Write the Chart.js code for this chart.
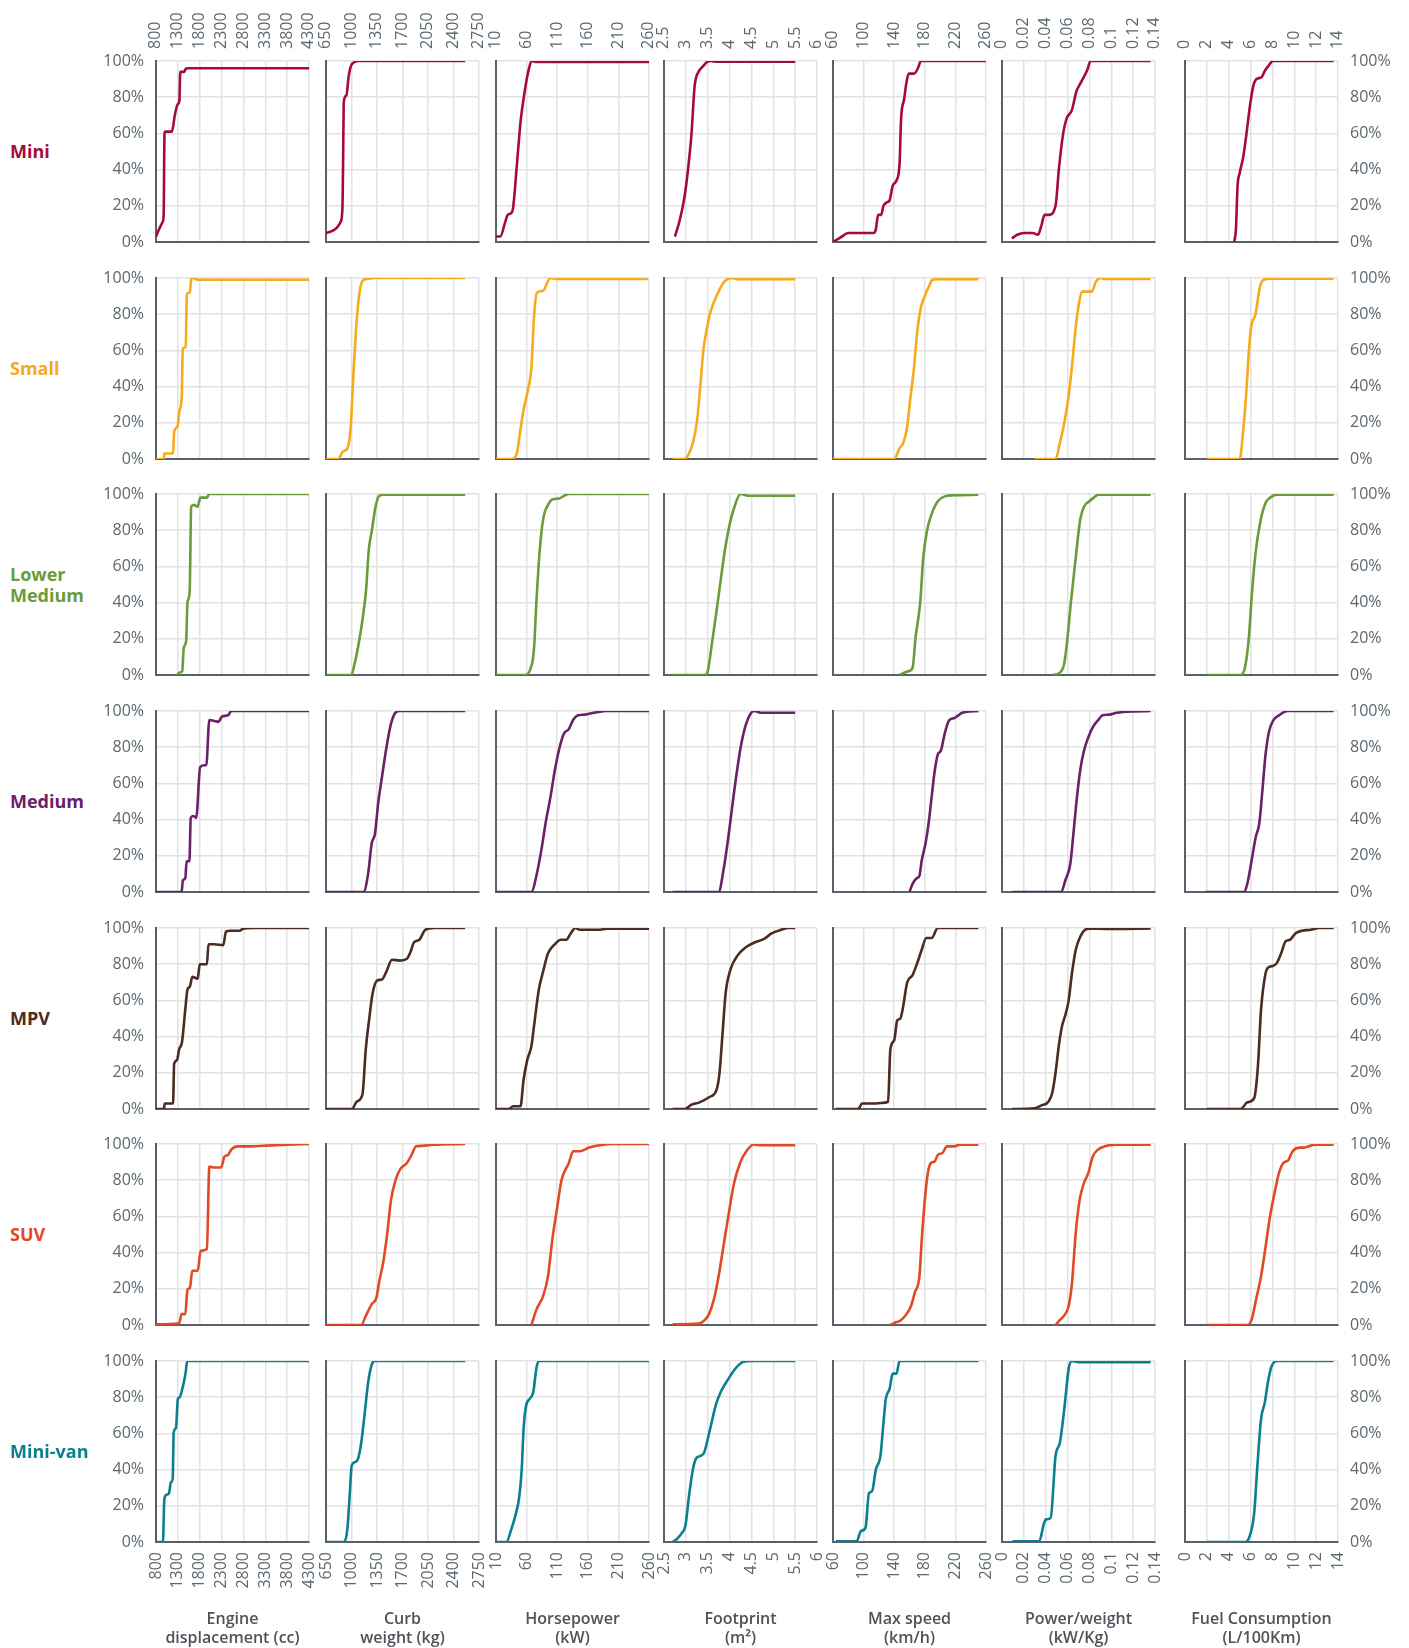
<!DOCTYPE html>
<html>
<head>
<meta charset="utf-8">
<script src="https://cdn.jsdelivr.net/npm/chart.js@4.4.0/dist/chart.umd.min.js"></script>
<style>
  body { margin: 0; background: #fff; width: 1409px; height: 1648px; position: relative; overflow: hidden; font-family: 'Open Sans', sans-serif; }
  canvas { position: absolute; }
  .rowlabel { position: absolute; left: 10px; font-weight: 700; font-size: 18px; line-height: 21.5px; transform: translateY(-50%); }
  .coltitle { position: absolute; top: 1609px; width: 190px; text-align: center; font-weight: 600; font-size: 16px; line-height: 19px; color: #4d5359; }
</style>
</head>
<body>
<script>
// vehicle classes (rows) and the seven attributes (columns)
const classes = ['Mini', 'Small', 'Lower\nMedium', 'Medium', 'MPV', 'SUV', 'Mini-van'];
const metrics = [
  ['Engine', 'displacement (cc)'],
  ['Curb', 'weight (kg)'],
  ['Horsepower', '(kW)'],
  ['Footprint', '(m\u00b2)'],
  ['Max speed', '(km/h)'],
  ['Power/weight', '(kW/Kg)'],
  ['Fuel Consumption', '(L/100Km)']
];

// x axis range + tick step of each column
const axisMin = [800, 650, 10, 2.5, 60, 0, 0];
const axisMax = [4300, 2750, 260, 6, 260, 0.14, 14];
const axisStep = [500, 350, 50, 0.5, 40, 0.02, 2];
const pctStep = 20;

// cumulative share (%) per class, order: engine, curb, hp, footprint, max speed, power/weight, fuel
const mini = [
  [[800,3],[870,7],[950,11],[975,15],[995,60],[1010,61],[1165,61],[1230,70],[1295,76],[1335,78],[1355,94],[1450,94],[1475,95.5],[1525,96],[4300,96]],
  [[650,5],[730,6],[800,8],[850,11],[875,18],[885,45],[893,77],[930,81],[960,91],[990,97],[1045,99.5],[1100,100],[2560,100]],
  [[10,3],[17,3],[25,11],[29,15],[35,16],[38,19],[44,42],[50,66],[55,79],[62,93],[69,100],[76,99.5],[260,99.5]],
  [[2.75,3],[2.86,12],[2.97,25],[3.04,38],[3.13,60],[3.2,86],[3.29,94],[3.39,97],[3.5,99.7],[3.57,100],[3.7,99.6],[5.5,99.6]],
  [[60,0],[70,2.5],[80,5],[113,5],[116,7],[119,15],[123,15],[126,20],[131,22],[134,23],[138,31],[143,34],[147,43],[149,68],[153,79],[156,88],[159,93],[166,93],[171,96],[175,100],[260,100]],
  [[0.009,2],[0.014,4],[0.02,5],[0.028,5],[0.033,4],[0.036,9],[0.039,15],[0.043,15],[0.049,20],[0.052,40],[0.056,60],[0.059,68],[0.064,73],[0.068,83],[0.073,89],[0.078,95],[0.081,100],[0.136,100]],
  [[4.5,0],[4.66,7],[4.81,31],[5.0,38],[5.33,47],[5.63,60],[5.94,75],[6.24,86],[6.54,90],[7.0,91],[7.3,94.5],[7.6,97],[8.05,100],[13.6,100]]
];
const small = [
  [[800,0],[980,0],[990,3],[1190,3],[1215,15],[1290,18],[1340,27],[1390,35],[1412,61],[1480,62],[1505,91],[1575,92],[1605,99.5],[1640,100],[1760,99],[4300,99]],
  [[650,0],[820,0],[880,4],[945,6],[990,18],[1020,42],[1058,69],[1100,89],[1145,98],[1210,99.5],[1335,100],[2560,100]],
  [[10,0],[36,0],[44,3],[49,14],[55,27],[62,38],[68,51],[72,78],[77,92],[87,93],[96,99],[100,100],[108,99.5],[258,99.5]],
  [[2.7,0],[2.95,0],[3.05,2],[3.15,8],[3.25,20],[3.33,40],[3.4,60],[3.48,72],[3.56,81],[3.72,91],[3.88,98],[4.05,100],[4.2,99.3],[5.5,99.3]],
  [[60,0],[140,0],[147,6],[152,9],[157,18],[161,33],[166,51],[170,70],[175,84],[179,89],[185,95],[190,99],[195,99.3],[250,99.3]],
  [[0.03,0],[0.049,0],[0.053,9],[0.057,20],[0.061,35],[0.064,51],[0.0675,73],[0.071,88],[0.0735,92.5],[0.082,92.5],[0.086,98],[0.09,100],[0.094,99.5],[0.136,99.5]],
  [[2,0],[5.0,0],[5.3,14],[5.6,36],[5.85,60],[6.05,73],[6.45,80],[6.85,95],[7.2,99],[7.8,99.6],[13.6,99.6]]
];
const lowerMedium = [
  [[1280,0],[1360,1.5],[1400,2],[1435,15],[1490,19],[1520,40],[1570,46],[1605,93],[1670,94],[1750,93],[1815,98],[1960,98],[2020,100],[4300,100]],
  [[650,0],[1000,0],[1030,4],[1093,16],[1156,32],[1200,47],[1237,69],[1280,80],[1330,93],[1375,98.7],[1440,99.6],[2560,99.6]],
  [[10,0],[57,0],[66,3],[72,14],[76,40],[81,67],[87,86],[95,94],[102,97],[113,97.5],[121,99],[129,100],[260,100]],
  [[2.7,0],[3.45,0],[3.5,2],[3.6,18],[3.7,35],[3.8,53],[3.9,70],[4.0,83],[4.1,92],[4.25,100],[4.45,99],[5.5,99]],
  [[147,0],[158,2],[164,4],[168,21],[174,40],[178,65],[183,80],[189,89],[197,96],[206,98.7],[218,99.3],[250,99.6]],
  [[0.047,0],[0.053,1.3],[0.057,6.5],[0.06,21],[0.063,40],[0.0675,65],[0.0716,86],[0.075,93],[0.08,96],[0.084,98],[0.088,99.6],[0.136,99.6]],
  [[2,0],[5.1,0],[5.5,4.6],[5.85,21],[6.1,43],[6.45,67],[6.87,84],[7.37,95],[7.8,98],[8.4,99.6],[13.6,99.6]]
];
const medium = [
  [[800,0],[1385,0],[1415,6.5],[1470,7.5],[1500,17],[1565,17],[1595,41],[1650,42],[1720,41],[1810,69],[1915,70],[1950,70],[2020,95],[2130,94.5],[2230,94],[2310,97],[2450,97.6],[2520,100],[4300,100]],
  [[650,0],[1165,0],[1228,10],[1278,27],[1322,32],[1366,49],[1416,63],[1480,80],[1542,93],[1592,98.5],[1655,100],[2560,100]],
  [[10,0],[68,0],[76,9],[84,23],[91,38],[99,52.5],[106,67],[114,80],[121,87.5],[129,90],[136,95],[144,97.6],[155,98],[170,99],[192,100],[260,100]],
  [[2.7,0],[3.75,0],[3.86,12],[3.97,30],[4.07,49],[4.17,67],[4.27,82],[4.38,93],[4.48,98.5],[4.56,100],[4.74,99],[5.5,99]],
  [[160,0],[164,4.5],[169,7.5],[173,9],[176,17.5],[181,27],[185,38],[188,49],[193,67],[197,76],[201,78],[206,87.5],[212,95],[218,96],[222,97],[229,99],[250,100]],
  [[0.0095,0],[0.054,0],[0.058,6.5],[0.0625,15.5],[0.065,30],[0.068,49],[0.0715,67],[0.075,78],[0.079,85.5],[0.083,91],[0.088,95],[0.092,97.6],[0.098,98],[0.105,99],[0.121,99.8],[0.136,100]],
  [[1.9,0],[5.4,0],[5.7,4.5],[6.1,17.5],[6.46,30],[6.8,38],[7.08,56],[7.37,76],[7.7,89],[8.1,95],[8.6,97.6],[9.4,100],[13.6,100]]
];
const mpv = [
  [[800,0],[980,0],[1000,3],[1190,3],[1215,25],[1280,27],[1330,33],[1395,37],[1470,55],[1520,66],[1575,67.6],[1630,73],[1755,72],[1800,80],[1965,80],[2000,91],[2130,91],[2340,90.5],[2400,98],[2500,98.5],[2715,98.5],[2790,99.6],[3030,100],[4300,100]],
  [[650,0],[1008,0],[1070,4],[1150,8],[1196,33],[1247,51],[1290,64],[1353,71],[1416,71.5],[1480,76],[1555,82.5],[1665,82],[1760,83],[1812,87],[1856,92],[1930,93.5],[2013,99],[2140,100],[2560,100]],
  [[10,0],[31,0],[38,1.5],[50,1.5],[55,16],[61,27],[68,35],[72,45.5],[80,66],[87,76],[95,86],[106,91],[116,93.5],[125,93.5],[132,97],[140,100],[147,99],[177,99],[192,99.6],[260,99.6]],
  [[2.7,0],[2.97,0],[3.13,2.4],[3.3,3.5],[3.53,6.5],[3.7,10.5],[3.77,20],[3.84,42],[3.91,64],[4.02,77],[4.19,85],[4.35,89],[4.57,92],[4.79,94],[4.96,97],[5.18,99],[5.35,100],[5.5,100]],
  [[64,0],[93,0],[98,3],[114,3],[123,3.3],[132,4],[135,33],[140,38],[144,49],[148,50],[151,55],[157,70],[164,74],[170,80.5],[176,88],[182,94.5],[189,94.5],[197,100],[250,100]],
  [[0.0095,0],[0.03,0.4],[0.036,2],[0.0425,4],[0.046,9],[0.049,20],[0.052,35],[0.055,46],[0.058,52],[0.061,60],[0.064,75],[0.0675,88],[0.0715,95],[0.076,99],[0.08,99.6],[0.096,99.5],[0.136,99.8]],
  [[2,0],[5.1,0],[5.7,3.7],[6.33,6],[6.67,23.5],[6.96,55],[7.37,75],[7.58,78],[8.0,79],[8.4,80.6],[8.8,86],[9.2,92.6],[9.6,93.5],[10.1,97],[10.7,98.5],[11.5,99],[12.3,100],[13.6,100]]
];
const suv = [
  [[800,0.4],[1330,1],[1385,6],[1470,6],[1520,19.5],[1575,20.5],[1630,30],[1755,30],[1820,41],[1965,42],[2020,87.5],[2130,87],[2290,87],[2365,93],[2450,94],[2525,97],[2660,98.7],[2980,98.7],[3250,99],[3780,99.6],[4300,100]],
  [[650,0],[1134,0],[1196,5],[1278,11.5],[1341,15],[1385,25],[1435,34.5],[1492,51],[1542,69],[1605,80],[1667,86],[1760,89.5],[1825,94],[1887,98.7],[1980,99],[2107,99.6],[2560,100]],
  [[68,0],[76,8.5],[87,16],[95,27],[102,47],[110,65],[117,80],[129,89.5],[136,96],[147,96],[162,98],[185,99.6],[200,100],[260,100]],
  [[2.7,0.4],[3.3,0.8],[3.42,2.5],[3.53,6],[3.64,14],[3.75,27],[3.85,42],[3.97,60],[4.1,78],[4.24,89.5],[4.4,96.5],[4.55,99.7],[4.75,99.3],[5.5,99.3]],
  [[135,0],[141,1.3],[147,2.2],[151,3.5],[156,6],[162,10.5],[167,18],[173,27],[176,47],[180,69],[184,84],[188,89.5],[193,90.4],[197,94],[203,95],[209,98.7],[218,98.7],[226,99.6],[250,99.6]],
  [[0.049,0],[0.053,2.8],[0.057,5.3],[0.061,10.5],[0.064,23],[0.0675,51],[0.071,69],[0.075,78.5],[0.079,84],[0.083,93],[0.088,97],[0.094,98.7],[0.103,99.6],[0.136,99.6]],
  [[2,0],[5.7,0],[6.1,3],[6.5,14],[6.96,27],[7.37,43],[7.78,60],[8.2,73],[8.6,84],[9.0,89.5],[9.44,91],[9.85,96],[10.5,98],[10.9,98],[11.3,98.7],[11.9,99.6],[13.6,99.6]]
];
const miniVan = [
  [[800,0],[960,0],[990,23.5],[1034,26],[1098,27],[1140,33],[1183,35],[1204,60.5],[1257,63],[1300,79],[1343,80],[1385,83],[1440,88.5],[1480,94],[1513,100],[4300,100]],
  [[650,0],[900,0],[945,8],[977,27],[1002,42],[1040,44],[1090,46],[1134,55],[1178,70],[1228,88],[1278,98],[1322,100],[2560,100]],
  [[10,0],[27,0],[35,7],[42,15],[48,25],[52,40],[55,62],[59,75],[65,79],[71,83],[76,96],[80,100],[260,100]],
  [[2.7,0],[2.81,2],[2.91,5],[2.99,9],[3.07,25],[3.16,40],[3.23,46],[3.33,47.5],[3.42,49.5],[3.55,62],[3.69,76],[3.8,83],[3.97,90],[4.13,95.7],[4.3,99.4],[4.5,100],[5.5,100]],
  [[64,0.4],[91,0.4],[96.5,6],[102.5,7.8],[107,27],[111,28],[116,40],[122,47.6],[126,66],[129,79],[134,84.6],[138,93],[143,93],[147,100],[250,100]],
  [[0.0095,0.4],[0.034,0.4],[0.0385,10.5],[0.0405,12.5],[0.0445,13.3],[0.049,47.5],[0.053,55],[0.057,73.5],[0.061,95.7],[0.064,100],[0.07,99.4],[0.136,99.4]],
  [[2,0],[5.5,0],[5.9,3],[6.33,16],[6.6,40],[6.96,68],[7.3,77],[7.58,88],[7.9,96.7],[8.4,100],[13.6,100]]
];
const series = [mini, small, lowerMedium, medium, mpv, suv, miniVan];

// styling / layout
const classColors = ['#a60a3d', '#f6aa1c', '#6b9b3a', '#6a2168', '#4b2b22', '#e04a26', '#0b7f8d'];
const colLeft = [156, 326, 496, 664, 833, 1002, 1185];
const rowTop = [61, 278, 494, 711, 928, 1144, 1361];
const plotW = 153, plotH = 181;
const tickFont = { family: "'Open Sans', sans-serif", size: 16 };
const tickColor = '#5d6770';
const gridColor = '#e2e2e2';
const axisColor = '#58616a';

const fmt = v => String(Number(v.toFixed(3)));
const pct = v => v + '%';

function makeCell(r, c) {
  const m = 32; // room for label overflow padding so every plot area keeps the same size
  const LM = c === 0 ? 72 : m, RM = c === 6 ? 72 : m;
  const TM = r === 0 ? 62 : m, BM = r === 6 ? 62 : m;
  const cv = document.createElement('canvas');
  cv.width = plotW + LM + RM;
  cv.height = plotH + TM + BM;
  cv.style.left = (colLeft[c] - LM) + 'px';
  cv.style.top = (rowTop[r] - TM) + 'px';
  cv.style.width = cv.width + 'px';
  cv.style.height = cv.height + 'px';
  document.body.appendChild(cv);

  const xTicks = (show, pad, shift) => ({
    display: show, stepSize: axisStep[c], autoSkip: false, minRotation: 90, maxRotation: 90,
    padding: pad, labelOffset: shift, font: tickFont, color: tickColor, callback: fmt
  });
  const scales = {
    x: {
      type: 'linear', position: 'bottom', min: axisMin[c], max: axisMax[c],
      ticks: xTicks(r === 6, 10, 0),
      grid: { color: gridColor, lineWidth: 1.5, drawTicks: false },
      border: { color: axisColor, width: 2 },
      afterFit: s => { s.height = r === 6 ? BM : 0; }
    },
    y: {
      type: 'linear', position: 'left', min: 0, max: 100,
      ticks: { display: c === 0, stepSize: pctStep, padding: 12, font: tickFont, color: tickColor, callback: pct },
      grid: { color: gridColor, lineWidth: 1.5, drawTicks: false },
      border: { color: axisColor, width: 2 },
      afterFit: s => { s.width = c === 0 ? LM : 0; }
    }
  };
  if (r === 0) {
    scales.xTop = {
      type: 'linear', position: 'top', min: axisMin[c], max: axisMax[c],
      ticks: xTicks(true, 12, 19),
      grid: { display: false, drawTicks: false }, border: { display: false },
      afterFit: s => { s.height = TM; }
    };
  }
  if (c === 6) {
    scales.yRight = {
      type: 'linear', position: 'right', min: 0, max: 100,
      ticks: { stepSize: pctStep, padding: 12, font: tickFont, color: tickColor, callback: pct },
      grid: { display: false, drawTicks: false }, border: { display: false },
      afterFit: s => { s.width = RM; }
    };
  }

  new Chart(cv, {
    type: 'line',
    data: {
      datasets: [{
        data: series[r][c].map(p => ({ x: p[0], y: p[1] })),
        borderColor: classColors[r],
        borderWidth: 2.6,
        pointRadius: 0,
        cubicInterpolationMode: 'monotone',
        fill: false
      }]
    },
    options: {
      responsive: false,
      animation: false,
      events: [],
      layout: { padding: { left: c === 0 ? 0 : m, right: c === 6 ? 0 : m, top: r === 0 ? 0 : m, bottom: r === 6 ? 0 : m } },
      plugins: { legend: { display: false }, tooltip: { enabled: false } },
      scales: scales
    }
  });
}

for (let r = 0; r < classes.length; r++) {
  for (let c = 0; c < metrics.length; c++) makeCell(r, c);
  const lab = document.createElement('div');
  lab.className = 'rowlabel';
  lab.style.color = classColors[r];
  lab.style.top = (rowTop[r] + plotH / 2) + 'px';
  lab.innerHTML = classes[r].replace('\n', '<br>');
  document.body.appendChild(lab);
}

metrics.forEach((t, c) => {
  const d = document.createElement('div');
  d.className = 'coltitle';
  d.style.left = (colLeft[c] + plotW / 2 - 95) + 'px';
  d.innerHTML = t.join('<br>');
  document.body.appendChild(d);
});
</script>
</body>
</html>
